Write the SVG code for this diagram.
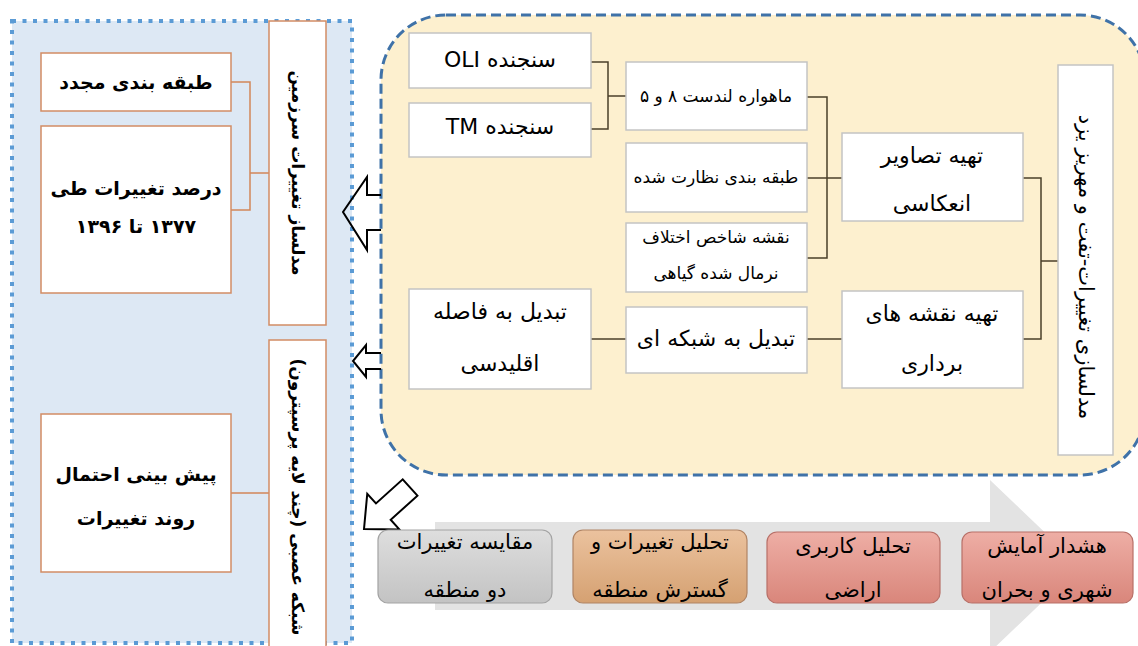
<svg xmlns="http://www.w3.org/2000/svg" width="1138" height="646" viewBox="0 0 1138 646">
<defs>
<style>
text{font-family:"DejaVu Sans",sans-serif;fill:#000;text-anchor:middle;direction:rtl;unicode-bidi:embed}
.lb{fill:#fff;stroke:#d28c64;stroke-width:1.5}
.rb{fill:#fff;stroke:#c4c4c4;stroke-width:1.5}
.lc{fill:none;stroke:#d28658;stroke-width:1.5}
.rc{fill:none;stroke:#4a3f2a;stroke-width:1.5}
.ha{fill:none;stroke:#000;stroke-width:2;stroke-linejoin:miter}
.t19{font-size:19px;font-weight:bold}
.tv{font-size:17px;font-weight:bold}
.t20{font-size:22px}
.t16{font-size:17px}
.tb{font-size:21px}
</style>
<linearGradient id="gGray" x1="0" y1="0" x2="0" y2="1"><stop offset="0" stop-color="#dedede"/><stop offset="1" stop-color="#c3c3c3"/></linearGradient>
<linearGradient id="gTan" x1="0" y1="0" x2="0" y2="1"><stop offset="0" stop-color="#ebc29e"/><stop offset="1" stop-color="#d5a172"/></linearGradient>
<linearGradient id="gPink" x1="0" y1="0" x2="0" y2="1"><stop offset="0" stop-color="#eeaea5"/><stop offset="1" stop-color="#d9867b"/></linearGradient>
</defs>
<rect width="1138" height="646" fill="#fff"/>

<g id="panel-left">
<rect x="12" y="21" width="340" height="622" fill="#dde8f4" stroke="#5b9bd5" stroke-width="4" stroke-dasharray="4 6.5"/>
</g>
<g id="panel-right">
<rect x="381" y="15" width="764" height="460" rx="65" ry="65" fill="#fdf0cf" stroke="#3f72a8" stroke-width="3" stroke-dasharray="10 5"/>
</g>

<g id="flow-arrow">
<polygon points="435,522 990,522 990,480 1080,566 990,652 990,610 435,610" fill="#e3e3e3"/>
</g>

<g id="connectors">
<polyline class="lc" points="231,82 250,82 250,210 231,210"/>
<line class="lc" x1="250" y1="173" x2="269" y2="173"/>
<line class="lc" x1="231" y1="493" x2="269" y2="493"/>
<polyline class="rc" points="591,62 608,62 608,129 591,129"/>
<line class="rc" x1="608" y1="96" x2="626" y2="96"/>
<polyline class="rc" points="807,97 827,97 827,258 807,258"/>
<line class="rc" x1="807" y1="178" x2="842" y2="178"/>
<line class="rc" x1="591" y1="339" x2="626" y2="339"/>
<line class="rc" x1="807" y1="339" x2="842" y2="339"/>
<polyline class="rc" points="1023,178 1041,178 1041,339 1023,339"/>
<line class="rc" x1="1041" y1="261" x2="1058" y2="261"/>
</g>

<g id="hollow-arrows">
<polyline class="ha" points="381,195 367,195 367,177 343,212 367,250 367,230 381,230"/>
<polyline class="ha" points="381,353 366,353 366,345 353,361 366,377 366,369 381,369"/>
<polygon class="ha" transform="translate(364,529) rotate(-42)" points="0,0 26,-24 26,-11 62,-11 62,11 26,11 26,24"/>
</g>

<g id="n-reclass"><rect class="lb" x="41" y="53" width="190" height="58"/><text class="t19" x="136" y="89">طبقه بندی مجدد</text></g>
<g id="n-percent"><rect class="lb" x="41" y="126" width="190" height="167"/><text class="t19" x="136" y="195">درصد تغییرات طی</text><text class="t19" x="136" y="233">۱۳۷۷ تا ۱۳۹۶</text></g>
<g id="n-lcm"><rect class="lb" x="269" y="21" width="57" height="304"/><text class="tv" transform="translate(298,173) rotate(90)" dy="6">مدلساز تغییرات سرزمین</text></g>
<g id="n-ann"><rect class="lb" x="269" y="340" width="57" height="310"/><text class="tv" transform="translate(298,497) rotate(90)" dy="6">شبکه عصبی (چند لایه پرسپترون)</text></g>
<g id="n-predict"><rect class="lb" x="41" y="414" width="190" height="158"/><text class="t19" x="136" y="481">پیش بینی احتمال</text><text class="t19" x="136" y="525">روند تغییرات</text></g>

<g id="n-oli"><rect class="rb" x="409" y="33" width="182" height="55"/><text class="t20" x="500" y="67">سنجنده OLI</text></g>
<g id="n-tm"><rect class="rb" x="409" y="103" width="182" height="54"/><text class="t20" x="500" y="134">سنجنده TM</text></g>
<g id="n-landsat"><rect class="rb" x="626" y="62" width="181" height="68"/><text class="t16" x="716" y="102">ماهواره لندست ۸ و ۵</text></g>
<g id="n-supervised"><rect class="rb" x="626" y="143" width="181" height="69"/><text class="t16" x="716" y="183">طبقه بندی نظارت شده</text></g>
<g id="n-ndvi"><rect class="rb" x="626" y="223" width="181" height="69"/><text class="t16" x="716" y="243">نقشه شاخص اختلاف</text><text class="t16" x="716" y="279">نرمال شده گیاهی</text></g>
<g id="n-reflect"><rect class="rb" x="842" y="133" width="181" height="88"/><text class="t20" x="932" y="163">تهیه تصاویر</text><text class="t20" x="932" y="211">انعکاسی</text></g>
<g id="n-vector"><rect class="rb" x="842" y="291" width="181" height="97"/><text class="t20" x="932" y="321">تهیه نقشه های</text><text class="t20" x="932" y="371">برداری</text></g>
<g id="n-euclid"><rect class="rb" x="409" y="289" width="182" height="100"/><text class="t20" x="500" y="319">تبدیل به فاصله</text><text class="t20" x="500" y="371">اقلیدسی</text></g>
<g id="n-raster"><rect class="rb" x="626" y="307" width="181" height="66"/><text class="t20" x="716" y="346">تبدیل به شبکه ای</text></g>
<g id="n-model"><rect class="rb" x="1058" y="65" width="55" height="390"/><text class="t20" transform="translate(1085.5,267) rotate(90)" dy="7" style="font-size:21px">مدلسازی تغییرات-تفت و مهریز یزد</text></g>

<g id="n-compare"><rect x="378" y="530" width="174" height="73" rx="10" fill="url(#gGray)" stroke="#a3a3a3" stroke-width="1.2"/><text class="tb" x="465" y="549">مقایسه تغییرات</text><text class="tb" x="465" y="597">دو منطقه</text></g>
<g id="n-expand"><rect x="573" y="530" width="174" height="73" rx="10" fill="url(#gTan)" stroke="#b08464" stroke-width="1.2"/><text class="tb" x="660" y="549">تحلیل تغییرات و</text><text class="tb" x="660" y="597">گسترش منطقه</text></g>
<g id="n-landuse"><rect x="767" y="532" width="173" height="71" rx="10" fill="url(#gPink)" stroke="#b87068" stroke-width="1.2"/><text class="tb" x="853" y="553">تحلیل کاربری</text><text class="tb" x="853" y="597">اراضی</text></g>
<g id="n-warning"><rect x="962" y="532" width="171" height="71" rx="10" fill="url(#gPink)" stroke="#b87068" stroke-width="1.2"/><text class="tb" x="1047" y="553">هشدار آمایش</text><text class="tb" x="1047" y="597">شهری و بحران</text></g>
</svg>
